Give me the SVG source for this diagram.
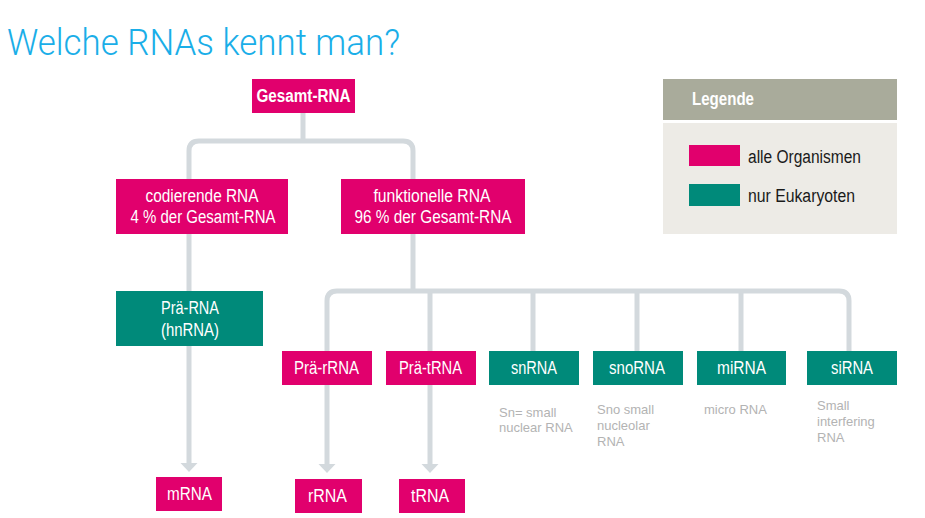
<svg xmlns="http://www.w3.org/2000/svg" width="925" height="518" viewBox="0 0 925 518">
  <style>
    .title { font-family: Roboto, "Liberation Sans", Arial, sans-serif; font-weight: 300; font-size: 37px; fill: #1aaee8; }
    .pink { fill: #e1006d; }
    .teal { fill: #008a7a; }
    .lbl { font-family: "Liberation Sans", Arial, sans-serif; font-size: 18px; fill: #ffffff; text-anchor: middle; }
    .bold { font-weight: bold; }
    .note { font-family: "Liberation Sans", Arial, sans-serif; font-size: 13px; fill: #b3b3b3; }
    .leg { font-family: "Liberation Sans", Arial, sans-serif; font-size: 18px; fill: #1a1a1a; }
    .conn { fill: none; stroke: #d3d9dd; stroke-width: 5; }
  </style>
  <defs>
    <marker id="arrow" markerUnits="userSpaceOnUse" markerWidth="18" markerHeight="10" refX="9" refY="0" viewBox="0 0 18 10" overflow="visible">
      <path d="M0.5,0 L17.5,0 L9,9 Z" fill="#d3d9dd"/>
    </marker>
  </defs>

  <rect width="925" height="518" fill="#ffffff"/>

  <text class="title" x="7" y="55" textLength="393" lengthAdjust="spacingAndGlyphs">Welche RNAs kennt man?</text>

  <!-- connectors -->
  <g id="connectors">
    <path class="conn" d="M303,113 V141"/>
    <path class="conn" d="M189,179 V151 Q189,141 199,141 H403 Q413,141 413,151 V179"/>
    <path class="conn" d="M189,234 V291"/>
    <path class="conn" d="M189,346 V463" marker-end="url(#arrow)"/>
    <path class="conn" d="M413,234 V291"/>
    <path class="conn" d="M327,351 V301 Q327,291 337,291 H839 Q849,291 849,301 V351"/>
    <path class="conn" d="M430,291 V351"/>
    <path class="conn" d="M533,291 V351"/>
    <path class="conn" d="M637,291 V351"/>
    <path class="conn" d="M741,291 V351"/>
    <path class="conn" d="M327,385 V464" marker-end="url(#arrow)"/>
    <path class="conn" d="M430,385 V464" marker-end="url(#arrow)"/>
  </g>

  <!-- nodes -->
  <g id="gesamt">
    <rect class="pink" x="252" y="79" width="103" height="34"/>
    <text class="lbl bold" x="303.5" y="102" textLength="94" lengthAdjust="spacingAndGlyphs">Gesamt-RNA</text>
  </g>
  <g id="codierend">
    <rect class="pink" x="116" y="179" width="172" height="55"/>
    <text class="lbl" x="202" y="202" textLength="113" lengthAdjust="spacingAndGlyphs">codierende RNA</text>
    <text class="lbl" x="203" y="223" textLength="145" lengthAdjust="spacingAndGlyphs">4 % der Gesamt-RNA</text>
  </g>
  <g id="funktionell">
    <rect class="pink" x="341" y="179" width="184" height="55"/>
    <text class="lbl" x="432" y="202" textLength="117" lengthAdjust="spacingAndGlyphs">funktionelle RNA</text>
    <text class="lbl" x="433" y="223" textLength="157" lengthAdjust="spacingAndGlyphs">96 % der Gesamt-RNA</text>
  </g>
  <g id="prae-rna">
    <rect class="teal" x="116" y="291" width="147" height="55"/>
    <text class="lbl" x="190" y="314" textLength="58" lengthAdjust="spacingAndGlyphs">Prä-RNA</text>
    <text class="lbl" x="190" y="336" textLength="58" lengthAdjust="spacingAndGlyphs">(hnRNA)</text>
  </g>
  <g id="prae-rrna">
    <rect class="pink" x="282" y="351" width="90" height="34"/>
    <text class="lbl" x="326.5" y="374" textLength="65" lengthAdjust="spacingAndGlyphs">Prä-rRNA</text>
  </g>
  <g id="prae-trna">
    <rect class="pink" x="386" y="351" width="90" height="34"/>
    <text class="lbl" x="430.5" y="374" textLength="63" lengthAdjust="spacingAndGlyphs">Prä-tRNA</text>
  </g>
  <g id="snrna">
    <rect class="teal" x="489" y="351" width="90" height="34"/>
    <text class="lbl" x="534" y="374" textLength="46" lengthAdjust="spacingAndGlyphs">snRNA</text>
    <text class="note" x="499" y="417">Sn= small</text>
    <text class="note" x="499" y="432">nuclear RNA</text>
  </g>
  <g id="snorna">
    <rect class="teal" x="593" y="351" width="90" height="34"/>
    <text class="lbl" x="637" y="374" textLength="56" lengthAdjust="spacingAndGlyphs">snoRNA</text>
    <text class="note" x="597" y="414">Sno small</text>
    <text class="note" x="597" y="430">nucleolar</text>
    <text class="note" x="597" y="446">RNA</text>
  </g>
  <g id="mirna">
    <rect class="teal" x="697" y="351" width="89" height="34"/>
    <text class="lbl" x="741.5" y="374" textLength="49" lengthAdjust="spacingAndGlyphs">miRNA</text>
    <text class="note" x="704" y="414">micro RNA</text>
  </g>
  <g id="sirna">
    <rect class="teal" x="807" y="351" width="90" height="34"/>
    <text class="lbl" x="852" y="374" textLength="42" lengthAdjust="spacingAndGlyphs">siRNA</text>
    <text class="note" x="817" y="410">Small</text>
    <text class="note" x="817" y="426">interfering</text>
    <text class="note" x="817" y="442">RNA</text>
  </g>
  <g id="mrna">
    <rect class="pink" x="156" y="477" width="66" height="34"/>
    <text class="lbl" x="189.5" y="500" textLength="45" lengthAdjust="spacingAndGlyphs">mRNA</text>
  </g>
  <g id="rrna">
    <rect class="pink" x="295" y="479" width="67" height="34"/>
    <text class="lbl" x="327.5" y="502" textLength="39" lengthAdjust="spacingAndGlyphs">rRNA</text>
  </g>
  <g id="trna">
    <rect class="pink" x="399" y="479" width="66" height="34"/>
    <text class="lbl" x="430" y="502" textLength="38" lengthAdjust="spacingAndGlyphs">tRNA</text>
  </g>

  <!-- legend -->
  <g id="legende">
    <rect x="663" y="79" width="234" height="41" fill="#a9ab9b"/>
    <rect x="663" y="123" width="234" height="111" fill="#edebe6"/>
    <text class="leg bold" x="692" y="105" style="fill:#ffffff" textLength="62" lengthAdjust="spacingAndGlyphs">Legende</text>
    <rect class="pink" x="689" y="145" width="51" height="21"/>
    <text class="leg" x="748" y="163" textLength="113" lengthAdjust="spacingAndGlyphs">alle Organismen</text>
    <rect class="teal" x="689" y="184" width="51" height="22"/>
    <text class="leg" x="748" y="202" textLength="107" lengthAdjust="spacingAndGlyphs">nur Eukaryoten</text>
  </g>
</svg>
